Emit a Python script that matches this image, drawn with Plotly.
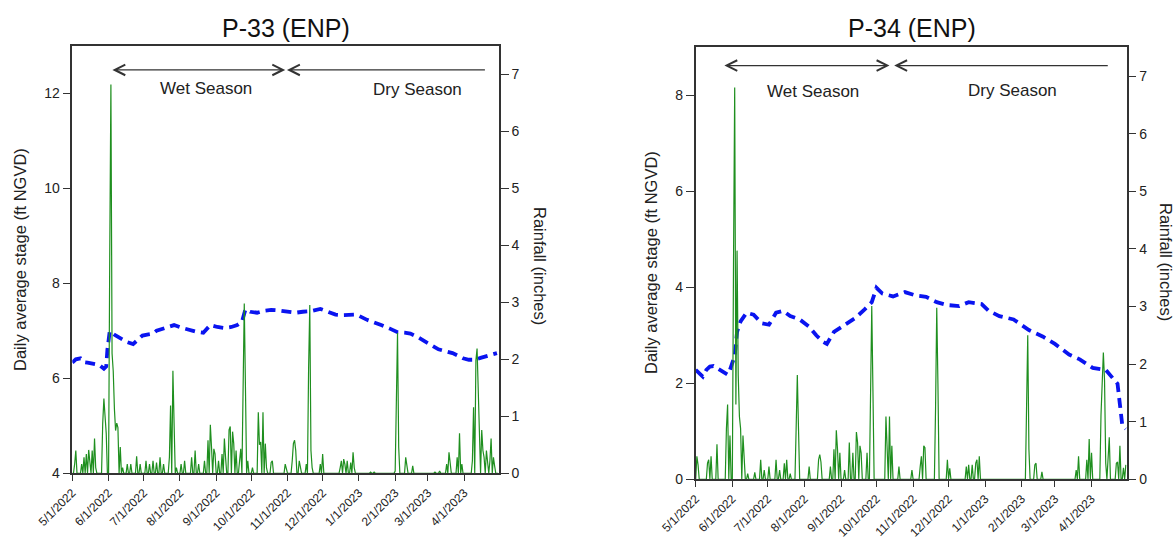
import plotly.graph_objects as go
import pandas as pd

W, H = 1175, 542

# ---------------- data ----------------
month_ticks = ["2022-05-01", "2022-06-01", "2022-07-01", "2022-08-01", "2022-09-01", "2022-10-01",
               "2022-11-01", "2022-12-01", "2023-01-01", "2023-02-01", "2023-03-01", "2023-04-01"]
month_labels = ["5/1/2022", "6/1/2022", "7/1/2022", "8/1/2022", "9/1/2022", "10/1/2022",
                "11/1/2022", "12/1/2022", "1/1/2023", "2/1/2023", "3/1/2023", "4/1/2023"]

# P-33 stage (ft NGVD)
p33_stage_dates = ["2022-05-01", "2022-05-04", "2022-05-08", "2022-05-11", "2022-05-14", "2022-05-19",
                   "2022-05-24", "2022-05-28", "2022-05-30", "2022-05-31", "2022-06-02", "2022-06-07",
                   "2022-06-12", "2022-06-17", "2022-06-22", "2022-06-26", "2022-06-30", "2022-07-04",
                   "2022-07-09", "2022-07-12", "2022-07-20", "2022-07-27", "2022-08-03", "2022-08-09",
                   "2022-08-15", "2022-08-21", "2022-08-24", "2022-08-27", "2022-09-02", "2022-09-08",
                   "2022-09-14", "2022-09-19", "2022-09-23", "2022-09-26", "2022-09-30", "2022-10-06",
                   "2022-10-12", "2022-10-18", "2022-10-24", "2022-10-30", "2022-11-08", "2022-11-14",
                   "2022-11-20", "2022-11-29", "2022-12-05", "2022-12-12", "2022-12-18", "2022-12-24",
                   "2022-12-30", "2023-01-08", "2023-01-14", "2023-01-20", "2023-01-27", "2023-02-03",
                   "2023-02-09", "2023-02-14", "2023-02-20", "2023-02-26", "2023-03-04", "2023-03-10",
                   "2023-03-16", "2023-03-22", "2023-03-27", "2023-03-31", "2023-04-05", "2023-04-10",
                   "2023-04-15", "2023-04-19", "2023-04-24", "2023-04-29"]
p33_stage = [6.33, 6.40, 6.42, 6.34, 6.33, 6.31,
             6.28, 6.20, 6.25, 6.60, 6.99, 6.90,
             6.83, 6.76, 6.72, 6.80, 6.90, 6.92,
             6.94, 7.00, 7.06, 7.12, 7.06, 7.01,
             6.98, 6.96, 7.05, 7.12, 7.08, 7.06,
             7.08, 7.12, 7.19, 7.45, 7.40, 7.38,
             7.42, 7.44, 7.43, 7.41, 7.38, 7.40,
             7.41, 7.46, 7.40, 7.34, 7.33, 7.33,
             7.34, 7.23, 7.18, 7.12, 7.05, 6.97,
             6.96, 6.94, 6.87, 6.79, 6.70, 6.61,
             6.57, 6.53, 6.47, 6.42, 6.39, 6.39,
             6.43, 6.46, 6.50, 6.53]

# P-33 daily rainfall (inches) on days with rain
p33_rain_dates = ["2022-05-03", "2022-05-04", "2022-05-09", "2022-05-11", "2022-05-13", "2022-05-15",
                  "2022-05-16", "2022-05-18", "2022-05-20", "2022-05-21", "2022-05-27", "2022-05-28",
                  "2022-05-29", "2022-05-30", "2022-06-02", "2022-06-03", "2022-06-04", "2022-06-05",
                  "2022-06-06", "2022-06-07", "2022-06-08", "2022-06-09", "2022-06-11", "2022-06-13",
                  "2022-06-17", "2022-06-20", "2022-06-25", "2022-06-28", "2022-07-03", "2022-07-06",
                  "2022-07-09", "2022-07-12", "2022-07-15", "2022-07-18", "2022-07-23", "2022-07-24",
                  "2022-07-26", "2022-07-27", "2022-07-29", "2022-08-02", "2022-08-05", "2022-08-11",
                  "2022-08-14", "2022-08-17", "2022-08-22", "2022-08-25", "2022-08-27", "2022-08-28",
                  "2022-08-30", "2022-08-31", "2022-09-03", "2022-09-06", "2022-09-08", "2022-09-09",
                  "2022-09-12", "2022-09-13", "2022-09-15", "2022-09-16", "2022-09-18", "2022-09-21",
                  "2022-09-22", "2022-09-24", "2022-09-25", "2022-09-26", "2022-09-28", "2022-10-02",
                  "2022-10-07", "2022-10-08", "2022-10-09", "2022-10-11", "2022-10-13", "2022-10-14",
                  "2022-10-18", "2022-10-19", "2022-10-30", "2022-10-31", "2022-11-05", "2022-11-06",
                  "2022-11-07", "2022-11-08", "2022-11-11", "2022-11-12", "2022-11-17", "2022-11-19",
                  "2022-11-20", "2022-11-21", "2022-11-22", "2022-11-29", "2022-12-01", "2022-12-07",
                  "2022-12-16", "2022-12-17", "2022-12-19", "2022-12-20", "2022-12-22", "2022-12-25",
                  "2022-12-27", "2022-12-28", "2023-01-11", "2023-01-14", "2023-02-01", "2023-02-02",
                  "2023-02-03", "2023-02-04", "2023-02-10", "2023-02-11", "2023-02-16", "2023-03-07",
                  "2023-03-11", "2023-03-17", "2023-03-19", "2023-03-20", "2023-03-26", "2023-03-28",
                  "2023-03-30", "2023-04-08", "2023-04-09", "2023-04-11", "2023-04-12", "2023-04-13",
                  "2023-04-14", "2023-04-16", "2023-04-17", "2023-04-18", "2023-04-20", "2023-04-21",
                  "2023-04-23", "2023-04-24", "2023-04-26", "2023-04-27"]
p33_rain = [0.16, 0.40, 0.16, 0.28, 0.34, 0.41,
            0.20, 0.40, 0.61, 0.10, 0.88, 1.31,
            1.00, 0.70, 3.79, 6.82, 2.10, 1.79,
            1.13, 0.75, 0.88, 0.80, 0.46, 0.10,
            0.16, 0.16, 0.30, 0.16, 0.22, 0.16,
            0.22, 0.19, 0.28, 0.16, 0.28, 1.19,
            1.80, 0.88, 0.10, 0.16, 0.22, 0.28,
            0.40, 0.16, 0.22, 0.58, 0.85, 0.46,
            0.43, 0.34, 0.22, 0.34, 0.61, 0.28,
            0.76, 0.82, 0.73, 0.52, 0.40, 0.22,
            0.43, 1.19, 2.98, 1.52, 0.22, 0.10,
            1.07, 0.50, 0.55, 1.07, 0.52, 0.10,
            0.19, 0.22, 0.16, 0.10, 0.22, 0.52,
            0.58, 0.40, 0.22, 0.10, 0.16, 1.85,
            2.95, 0.40, 0.10, 0.16, 0.34, 0.01,
            0.10, 0.22, 0.25, 0.16, 0.22, 0.19,
            0.37, 0.10, 0.02, 0.02, 0.04, 1.80,
            2.46, 0.46, 0.28, 0.16, 0.13, 0.02,
            0.04, 0.16, 0.37, 0.16, 0.28, 0.70,
            0.16, 0.22, 1.16, 1.98, 2.19, 1.31,
            0.40, 0.76, 0.40, 0.28, 0.40, 0.13,
            0.22, 0.61, 0.28, 0.13]

# P-34 stage (ft NGVD)
p34_stage_dates = ["2022-05-01", "2022-05-04", "2022-05-07", "2022-05-10", "2022-05-13", "2022-05-16",
                   "2022-05-19", "2022-05-22", "2022-05-25", "2022-05-28", "2022-05-30", "2022-06-03",
                   "2022-06-05", "2022-06-08", "2022-06-13", "2022-06-19", "2022-06-26", "2022-07-02",
                   "2022-07-08", "2022-07-14", "2022-07-20", "2022-07-28", "2022-08-05", "2022-08-11",
                   "2022-08-17", "2022-08-20", "2022-08-26", "2022-09-05", "2022-09-13", "2022-09-21",
                   "2022-09-27", "2022-10-01", "2022-10-06", "2022-10-15", "2022-10-25", "2022-11-03",
                   "2022-11-12", "2022-11-21", "2022-11-30", "2022-12-10", "2022-12-18", "2022-12-29",
                   "2023-01-04", "2023-01-13", "2023-01-25", "2023-02-07", "2023-02-19", "2023-03-01",
                   "2023-03-13", "2023-03-22", "2023-04-02", "2023-04-13", "2023-04-18", "2023-04-23",
                   "2023-04-25", "2023-04-27", "2023-04-30"]
p34_stage = [2.28, 2.20, 2.14, 2.28, 2.35, 2.36,
             2.32, 2.28, 2.22, 2.18, 2.28, 2.57,
             3.07, 3.29, 3.47, 3.43, 3.25, 3.22,
             3.47, 3.51, 3.40, 3.33, 3.18, 3.00,
             2.86, 2.82, 3.07, 3.22, 3.36, 3.54,
             3.69, 3.99, 3.87, 3.81, 3.90, 3.83,
             3.80, 3.69, 3.63, 3.61, 3.69, 3.65,
             3.51, 3.40, 3.33, 3.11, 2.97, 2.82,
             2.60, 2.50, 2.32, 2.28, 2.14, 1.99,
             1.56, 1.13, 1.05]

# P-34 daily rainfall (inches) on days with rain
p34_rain_dates = ["2022-05-02", "2022-05-03", "2022-05-11", "2022-05-12", "2022-05-14", "2022-05-19",
                  "2022-05-27", "2022-05-28", "2022-05-30", "2022-06-02", "2022-06-03", "2022-06-04",
                  "2022-06-05", "2022-06-06", "2022-06-07", "2022-06-08", "2022-06-10", "2022-06-11",
                  "2022-06-14", "2022-06-20", "2022-06-25", "2022-06-28", "2022-07-02", "2022-07-08",
                  "2022-07-11", "2022-07-15", "2022-07-17", "2022-07-20", "2022-07-25", "2022-07-26",
                  "2022-07-27", "2022-08-05", "2022-08-13", "2022-08-14", "2022-08-15", "2022-08-23",
                  "2022-08-26", "2022-08-28", "2022-08-29", "2022-08-31", "2022-09-04", "2022-09-08",
                  "2022-09-11", "2022-09-14", "2022-09-15", "2022-09-17", "2022-09-18", "2022-09-23",
                  "2022-09-26", "2022-09-27", "2022-09-28", "2022-10-09", "2022-10-10", "2022-10-12",
                  "2022-10-14", "2022-10-20", "2022-10-31", "2022-11-07", "2022-11-08", "2022-11-10",
                  "2022-11-11", "2022-11-20", "2022-11-21", "2022-11-22", "2022-11-30", "2022-12-02",
                  "2022-12-16", "2022-12-18", "2022-12-21", "2022-12-24", "2022-12-25", "2022-12-27",
                  "2023-01-10", "2023-01-13", "2023-02-05", "2023-02-06", "2023-02-07", "2023-02-12",
                  "2023-02-13", "2023-02-18", "2023-03-08", "2023-03-14", "2023-03-19", "2023-03-21",
                  "2023-03-28", "2023-03-30", "2023-04-01", "2023-04-09", "2023-04-10", "2023-04-11",
                  "2023-04-12", "2023-04-13", "2023-04-15", "2023-04-16", "2023-04-22", "2023-04-23",
                  "2023-04-25", "2023-04-28", "2023-04-30"]
p34_rain = [0.40, 0.25, 0.28, 0.34, 0.40, 0.61,
            0.88, 1.30, 0.76, 3.75, 6.80, 1.30,
            3.97, 1.80, 1.09, 0.88, 0.76, 0.28,
            0.10, 0.12, 0.34, 0.16, 0.22, 0.34,
            0.16, 0.28, 0.34, 0.10, 0.88, 1.81,
            0.88, 0.22, 0.34, 0.43, 0.30, 0.22,
            0.52, 0.85, 0.52, 0.46, 0.16, 0.64,
            0.46, 0.82, 0.64, 0.58, 0.46, 0.46,
            1.18, 3.01, 1.54, 1.09, 0.34, 1.09,
            0.58, 0.22, 0.16, 0.22, 0.40, 0.58,
            0.55, 1.24, 2.98, 1.66, 0.34, 0.19,
            0.22, 0.25, 0.25, 0.28, 0.34, 0.40,
            0.01, 0.01, 1.24, 2.50, 0.52, 0.25,
            0.28, 0.13, 0.01, 0.01, 0.16, 0.40,
            0.34, 0.70, 0.46, 1.12, 1.72, 2.20,
            1.72, 0.28, 0.40, 0.73, 0.28, 0.30,
            0.58, 0.20, 0.25]

# ---------------- helpers ----------------
days = pd.date_range("2022-05-01", "2023-04-30", freq="D")


def daily_rain(dates, vals):
    s = pd.Series(0.0, index=days)
    s.loc[pd.to_datetime(dates)] = vals
    return s


def px(x):
    return x / W


def py(y):
    return 1 - y / H


FONT = "Liberation Sans, Arial, sans-serif"
TXT = "#222222"
AX = "#333333"
GREEN = "#1f8f1f"
BLUE = "#0a14f0"

fig = go.Figure()

r33 = daily_rain(p33_rain_dates, p33_rain)
r34 = daily_rain(p34_rain_dates, p34_rain)

fig.add_trace(go.Scatter(x=r33.index, y=r33.values, mode="lines", xaxis="x", yaxis="y2",
                         line=dict(color=GREEN, width=1.2), showlegend=False))
fig.add_trace(go.Scatter(x=p33_stage_dates, y=p33_stage, mode="lines", xaxis="x", yaxis="y",
                         line=dict(color=BLUE, width=3.8, dash="10px,6px"), showlegend=False))
fig.add_trace(go.Scatter(x=r34.index, y=r34.values, mode="lines", xaxis="x2", yaxis="y4",
                         line=dict(color=GREEN, width=1.2), showlegend=False))
fig.add_trace(go.Scatter(x=p34_stage_dates, y=p34_stage, mode="lines", xaxis="x2", yaxis="y3",
                         line=dict(color=BLUE, width=3.8, dash="10px,6px"), showlegend=False))

xrange = ["2022-05-01", "2023-04-30 18:00"]
xtickfont = dict(family=FONT, size=12, color=TXT)
ytickfont = dict(family=FONT, size=14, color=TXT)


def xax(domain, anchor):
    return dict(domain=domain, anchor=anchor, type="date", range=xrange, automargin=False,
                tickvals=month_ticks, ticktext=month_labels, tickangle=-45,
                ticks="outside", ticklen=6, tickwidth=1.2, tickcolor=AX,
                showline=True, linecolor=AX, linewidth=1.5, mirror=True,
                showgrid=False, zeroline=False, tickfont=xtickfont)


def yax(domain, anchor, rng, vals, side="left", overlaying=None):
    d = dict(domain=domain, anchor=anchor, range=rng, tickvals=vals, side=side, automargin=False,
             ticks="outside", ticklen=8, tickwidth=1.2, tickcolor=AX,
             showline=True, linecolor=AX, linewidth=1.5,
             showgrid=False, zeroline=False, tickfont=ytickfont)
    if overlaying:
        d["overlaying"] = overlaying
    return d


L = (72.3, 499.0, 45.7, 473.3)
R = (695.7, 1126.7, 47.3, 479.3)

fig.update_layout(
    width=W, height=H,
    margin=dict(l=0, r=0, t=0, b=0, autoexpand=False),
    paper_bgcolor="white", plot_bgcolor="white",
    font=dict(family=FONT, color=TXT),
    xaxis=xax([px(L[0]), px(L[1])], "y"),
    yaxis=yax([py(L[3]), py(L[2])], "x", [4, 13], [4, 6, 8, 10, 12]),
    yaxis2=yax([py(L[3]), py(L[2])], "x", [0, 7.5], [0, 1, 2, 3, 4, 5, 6, 7], side="right", overlaying="y"),
    xaxis2=xax([px(R[0]), px(R[1])], "y3"),
    yaxis3=yax([py(R[3]), py(R[2])], "x2", [0, 9], [0, 2, 4, 6, 8]),
    yaxis4=yax([py(R[3]), py(R[2])], "x2", [0, 7.5], [0, 1, 2, 3, 4, 5, 6, 7], side="right", overlaying="y3"),
)

ann = []
common = dict(xref="paper", yref="paper", xanchor="center", yanchor="middle", showarrow=False)
# titles
ann.append(dict(text="P-33 (ENP)", x=px(285.5), y=py(27.5),
                font=dict(family=FONT, size=25, color="#111111"), **common))
ann.append(dict(text="P-34 (ENP)", x=px(911.5), y=py(27.5),
                font=dict(family=FONT, size=25, color="#111111"), **common))
# axis titles
for xx, yy, t, ang in [(20, 260, "Daily average stage (ft NGVD)", -90),
                       (540, 266, "Rainfall (inches)", 90),
                       (651, 263, "Daily average stage (ft NGVD)", -90),
                       (1166, 262, "Rainfall (inches)", 90)]:
    ann.append(dict(text=t, x=px(xx), y=py(yy), textangle=ang,
                    font=dict(family=FONT, size=16.5, color=TXT), **common))
# season labels
for xx, yy, t in [(206, 88, "Wet Season"), (417.5, 89, "Dry Season"),
                  (813, 91.5, "Wet Season"), (1012.5, 90.5, "Dry Season")]:
    ann.append(dict(text=t, x=px(xx), y=py(yy),
                    font=dict(family=FONT, size=17, color=TXT), **common))

arrow_style = dict(showarrow=True, text="", arrowhead=5, startarrowhead=5, arrowsize=1.6,
                   startarrowsize=1.6, arrowwidth=1.3, arrowcolor="#333333")
# P-33 season arrows
ann.append(dict(x="2022-10-30", y=12.49, ax="2022-06-03", ay=12.49, xref="x", yref="y",
                axref="x", ayref="y", arrowside="end+start", **arrow_style))
ann.append(dict(x="2022-10-31 12:00", y=12.49, ax="2023-04-20", ay=12.49, xref="x", yref="y",
                axref="x", ayref="y", arrowside="end", **arrow_style))
# P-34 season arrows
ann.append(dict(x="2022-10-12", y=8.62, ax="2022-05-24", ay=8.62, xref="x2", yref="y3",
                axref="x2", ayref="y3", arrowside="end+start", **arrow_style))
ann.append(dict(x="2022-10-16", y=8.62, ax="2023-04-16", ay=8.62, xref="x2", yref="y3",
                axref="x2", ayref="y3", arrowside="end", **arrow_style))

fig.update_layout(annotations=ann)

fig.write_html("out.html")
